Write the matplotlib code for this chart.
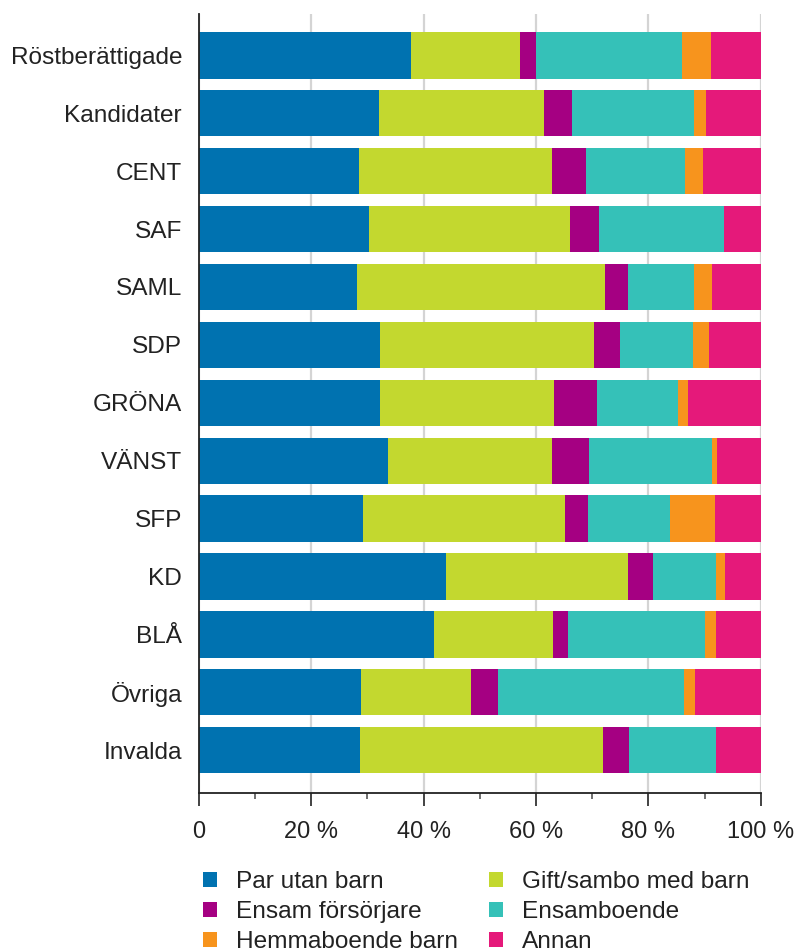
import matplotlib
matplotlib.use("Agg")
import matplotlib.pyplot as plt
from matplotlib.ticker import MultipleLocator, FixedLocator
import numpy as np

plt.rcParams['font.family'] = ['Liberation Sans', 'DejaVu Sans']

categories = ["Röstberättigade", "Kandidater", "CENT", "SAF", "SAML", "SDP", "GRÖNA",
              "VÄNST", "SFP", "KD", "BLÅ", "Övriga", "Invalda"]

series_names = ["Par utan barn", "Gift/sambo med barn", "Ensam försörjare",
                "Ensamboende", "Hemmaboende barn", "Annan"]

par_utan_barn = [37.8, 32.0, 28.5, 30.3, 28.2, 32.2, 32.2, 33.6, 29.3, 44.0, 41.8, 28.9, 28.7]
gift_sambo_med_barn = [19.4, 29.5, 34.3, 35.7, 44.1, 38.1, 31.0, 29.2, 35.9, 32.3, 21.3, 19.6, 43.2]
ensam_forsorjare = [2.8, 4.9, 6.1, 5.3, 4.0, 4.6, 7.6, 6.7, 4.1, 4.6, 2.6, 4.7, 4.6]
ensamboende = [26.0, 21.7, 17.7, 22.1, 11.8, 13.1, 14.4, 21.9, 14.5, 11.2, 24.4, 33.1, 15.5]
hemmaboende_barn = [5.2, 2.1, 3.2, 0.0, 3.3, 2.8, 1.8, 0.8, 8.1, 1.5, 2.0, 2.0, 0.0]
annan = [8.8, 9.8, 10.2, 6.6, 8.6, 9.2, 13.0, 7.8, 8.1, 6.4, 7.9, 11.7, 8.0]

colors = ["#0072b0", "#c3d82f", "#a50082", "#35c1b8", "#f7941d", "#e5197a"]

x_ticks = [0, 20, 40, 60, 80, 100]
x_ticklabels = ["0", "20 %", "40 %", "60 %", "80 %", "100 %"]

data = [par_utan_barn, gift_sambo_med_barn, ensam_forsorjare, ensamboende, hemmaboende_barn, annan]

FS = 17.6

fig = plt.figure(figsize=(7.95, 9.52), dpi=100)
ax = fig.add_axes([0.250, 0.167, 0.7069, 0.818])

y = np.arange(len(categories))
left = np.zeros(len(categories))
handles = []
for name, vals, c in zip(series_names, data, colors):
    vals = np.array(vals)
    h = ax.barh(y, vals, left=left, height=0.8, color=c, label=name, linewidth=0)
    handles.append(h)
    left += vals

ax.set_xlim(0, 100)
ax.set_ylim(len(categories) - 1 + 0.74, -0.71)
ax.set_yticks(y)
ax.set_yticklabels(categories, fontsize=FS, color="#222222")
ax.tick_params(axis='y', length=0, pad=12)

ax.xaxis.set_major_locator(FixedLocator(x_ticks))
ax.set_xticklabels(x_ticklabels, fontsize=17, color="#222222")
ax.xaxis.set_minor_locator(MultipleLocator(10))
ax.tick_params(axis='x', which='major', length=9, width=1.2, color="#222222", pad=11)
ax.tick_params(axis='x', which='minor', length=4, width=1.2, color="#555555")

ax.grid(axis='x', which='major', color="#d4d4d4", linewidth=1.6)
ax.set_axisbelow(True)

for s in ["top", "right"]:
    ax.spines[s].set_visible(False)
ax.spines["left"].set_color("#222222")
ax.spines["bottom"].set_color("#222222")
ax.spines["left"].set_linewidth(1.3)
ax.spines["bottom"].set_linewidth(1.3)

order = [0, 2, 4, 1, 3, 5]
leg = fig.legend([handles[i] for i in order], [series_names[i] for i in order],
                 ncol=2, loc="upper left", bbox_to_anchor=(0.2553, 0.0852),
                 frameon=False, fontsize=FS, handlelength=0.58, handleheight=0.58,
                 handletextpad=0.78, columnspacing=1.25, labelspacing=0.33,
                 borderaxespad=0, borderpad=0)
for t in leg.get_texts():
    t.set_color("#222222")

fig.savefig("out.png", dpi=100)
